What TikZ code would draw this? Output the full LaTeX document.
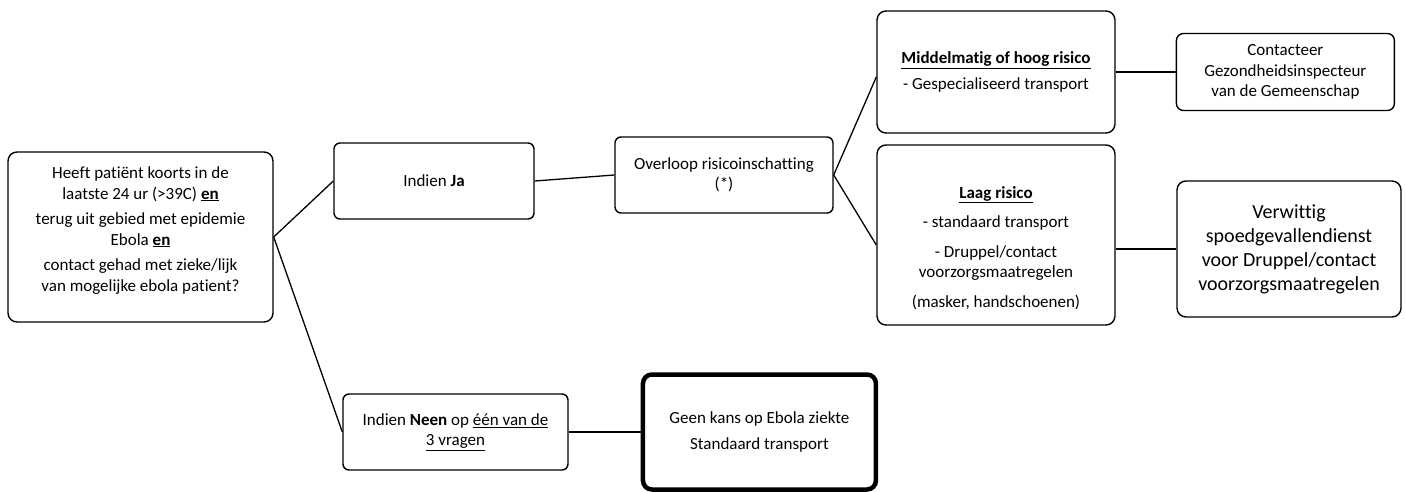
\documentclass[tikz,border=0pt]{standalone}
\usepackage{fontspec}
\setmainfont{Carlito}[Ligatures=NoCommon]
\usetikzlibrary{positioning}
\tikzset{
  box/.style={draw, rounded corners=9pt, line width=1.4pt, align=center, inner sep=2pt,
    font=\fontsize{17}{20.5}\selectfont},
  bigbox/.style={box, font=\fontsize{20}{24}\selectfont},
  endbox/.style={box, line width=4.5pt},
  link/.style={line width=1.3pt}
}
\begin{document}
\begin{tikzpicture}[x=1pt, y=-1pt]
\useasboundingbox (0,0) rectangle (1405,492);
% nodes
\node[box, minimum width=265pt, minimum height=170pt] (q) at (140.5,237)
  {Heeft patiënt koorts in de\\ laatste 24 ur (>39C) \underline{\textbf{en}}\\[5pt]
   terug uit gebied met epidemie\\ Ebola \underline{\textbf{en}}\\[5pt]
   contact gehad met zieke/lijk\\ van mogelijke ebola patient?\rule[-16pt]{0pt}{0pt}};
\node[box, rounded corners=6pt, minimum width=200pt, minimum height=76pt] (ja) at (434,181)
  {Indien \textbf{Ja}};
\node[box, rounded corners=6pt, minimum width=218pt, minimum height=76pt] (risk) at (724,175)
  {Overloop risicoinschatting\\ (*)};
\node[box, minimum width=238pt, minimum height=122pt] (hoog) at (996,72)
  {\underline{\textbf{Middelmatig of hoog risico}}\\[5pt] - Gespecialiseerd transport};
\node[box, minimum width=238pt, minimum height=180pt] (laag) at (996,235)
  {\rule{0pt}{38pt}\underline{\textbf{Laag risico}}\\[9pt] - standaard transport\\[9pt]
   - Druppel/contact\\ voorzorgsmaatregelen\\[9pt] (masker, handschoenen)};
\node[box, rounded corners=7pt, minimum width=218pt, minimum height=77pt, right=60pt of hoog] (insp)
  {Contacteer\\ Gezondheidsinspecteur\\ van de Gemeenschap};
\node[bigbox, minimum width=224pt, minimum height=136pt] (spoed) at (1289,249)
  {Verwittig\\ spoedgevallendienst\\ voor Druppel/contact\\ voorzorgsmaatregelen};
\node[box, rounded corners=6pt, minimum width=225pt, minimum height=76pt] (neen) at (455.5,432)
  {Indien \textbf{Neen} op \underline{één van de}\\ \underline{3 vragen}};
\node[endbox, minimum width=233pt, minimum height=115pt, right=72pt of neen] (geen)
  {Geen kans op Ebola ziekte\\[6pt] Standaard transport};

% edges
\draw[link] (q.east) -- (ja.west);
\draw[link] (q.east) -- (neen.west);
\draw[link] (ja.east) -- (risk.west);
\draw[link] (risk.east) -- ([yshift=-5pt]hoog.west);
\draw[link] (risk.east) -- ([yshift=-10pt]laag.west);
\draw[link] (hoog.east) -- (insp.west);
\draw[link] (laag.east |- spoed.west) -- (spoed.west);
\draw[link] (neen.east) -- (geen.west);
\end{tikzpicture}
\end{document}
